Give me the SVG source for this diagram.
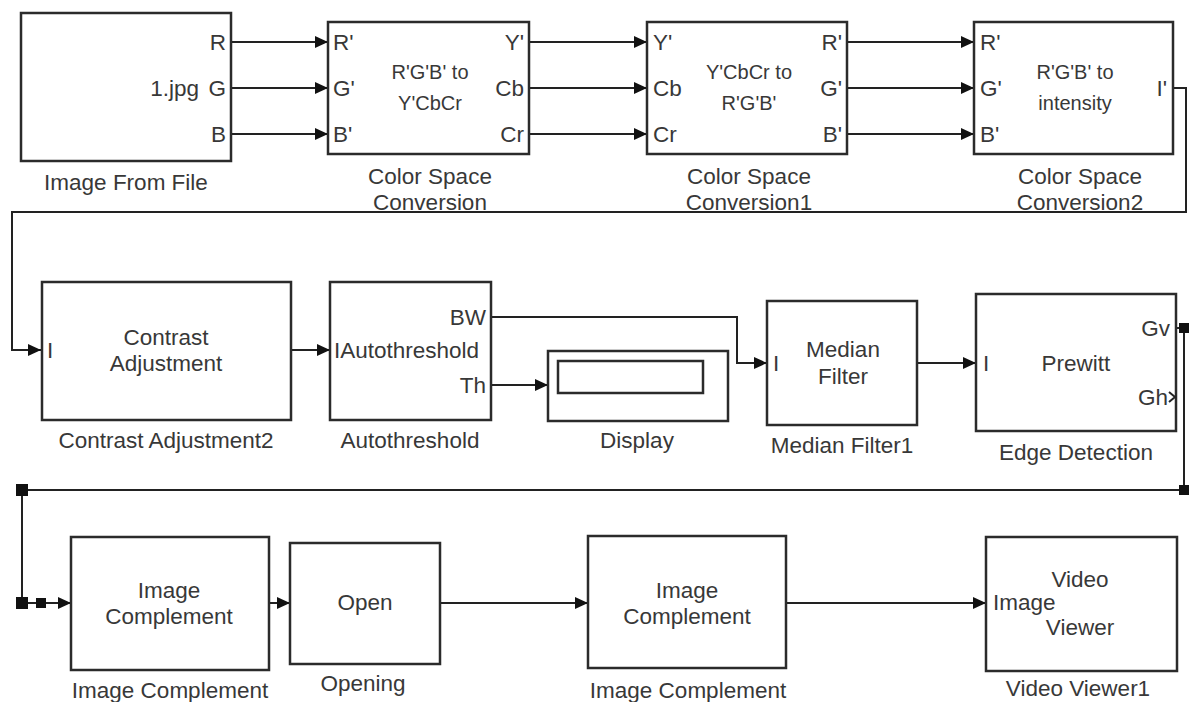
<svg xmlns="http://www.w3.org/2000/svg" width="1190" height="702" viewBox="0 0 1190 702">
<style>
  .blk { fill: #fff; stroke: #2b2b2b; stroke-width: 2.5; }
  .ln { fill: none; stroke: #222; stroke-width: 2; }
  .arr { fill: none; stroke: #222; stroke-width: 2; marker-end: url(#ah); }
  .t { font-family: "Liberation Sans", Arial, sans-serif; font-size: 22.5px; fill: #383838; }
  .s { font-family: "Liberation Sans", Arial, sans-serif; font-size: 20px; fill: #383838; }
  .m { text-anchor: middle; }
  .e { text-anchor: end; }
  .jn { fill: #111; }
</style>
<defs>
  <marker id="ah" markerUnits="userSpaceOnUse" markerWidth="14" markerHeight="12" refX="13" refY="6" orient="auto">
    <path d="M0,0 L13,6 L0,12 z" fill="#111"/>
  </marker>
</defs>
<rect width="1190" height="702" fill="#fff"/>

<g id="connectors">
  <line class="arr" x1="231" y1="42" x2="328" y2="42"/>
  <line class="arr" x1="231" y1="88" x2="328" y2="88"/>
  <line class="arr" x1="231" y1="134" x2="328" y2="134"/>
  <line class="arr" x1="529" y1="42" x2="647" y2="42"/>
  <line class="arr" x1="529" y1="88" x2="647" y2="88"/>
  <line class="arr" x1="529" y1="134" x2="647" y2="134"/>
  <line class="arr" x1="847" y1="42" x2="974" y2="42"/>
  <line class="arr" x1="847" y1="88" x2="974" y2="88"/>
  <line class="arr" x1="847" y1="134" x2="974" y2="134"/>
  <polyline class="arr" points="1173,88 1186,88 1186,212 12,212 12,350 41,350"/>
  <line class="arr" x1="291" y1="350" x2="330" y2="350"/>
  <line class="arr" x1="491" y1="385" x2="548" y2="385"/>
  <polyline class="arr" points="491,317 737,317 737,363 767,363"/>
  <line class="arr" x1="917" y1="363" x2="976" y2="363"/>
  <polyline class="ln" points="1176,328 1184,328 1184,490 22,490 22,603"/>
  <line class="arr" x1="22" y1="603" x2="71" y2="603"/>
  <rect class="jn" x="1179" y="323" width="10" height="10"/>
  <rect class="jn" x="1179" y="485" width="10" height="10"/>
  <rect class="jn" x="16" y="484" width="12" height="12"/>
  <rect class="jn" x="16" y="597" width="12" height="12"/>
  <rect class="jn" x="36" y="598" width="10" height="10"/>
  <line class="arr" x1="259" y1="603" x2="290" y2="603"/>
  <line class="arr" x1="440" y1="603" x2="588" y2="603"/>
  <line class="arr" x1="786" y1="603" x2="986" y2="603"/>
</g>

<g id="image-from-file">
  <rect class="blk" x="21" y="13" width="210" height="148"/>
  <text class="t e" x="226" y="50">R</text>
  <text class="t e" x="226" y="96">G</text>
  <text class="t e" x="226" y="142">B</text>
  <text class="t e" x="199" y="96">1.jpg</text>
  <text class="t m" x="126" y="190">Image From File</text>
</g>

<g id="color-space-conversion">
  <rect class="blk" x="328" y="22" width="201" height="132"/>
  <text class="t" x="333" y="50">R'</text>
  <text class="t" x="333" y="96">G'</text>
  <text class="t" x="333" y="142">B'</text>
  <text class="t e" x="524" y="50">Y'</text>
  <text class="t e" x="524" y="96">Cb</text>
  <text class="t e" x="524" y="142">Cr</text>
  <text class="s m" x="430" y="79">R'G'B' to</text>
  <text class="s m" x="430" y="110">Y'CbCr</text>
  <text class="t m" x="430" y="184">Color Space</text>
  <text class="t m" x="430" y="210">Conversion</text>
</g>

<g id="color-space-conversion1">
  <rect class="blk" x="647" y="22" width="200" height="132"/>
  <text class="t" x="653" y="50">Y'</text>
  <text class="t" x="653" y="96">Cb</text>
  <text class="t" x="653" y="142">Cr</text>
  <text class="t e" x="842" y="50">R'</text>
  <text class="t e" x="842" y="96">G'</text>
  <text class="t e" x="842" y="142">B'</text>
  <text class="s m" x="749" y="79">Y'CbCr to</text>
  <text class="s m" x="749" y="110">R'G'B'</text>
  <text class="t m" x="749" y="184">Color Space</text>
  <text class="t m" x="749" y="210">Conversion1</text>
</g>

<g id="color-space-conversion2">
  <rect class="blk" x="974" y="22" width="199" height="132"/>
  <text class="t" x="980" y="50">R'</text>
  <text class="t" x="980" y="96">G'</text>
  <text class="t" x="980" y="142">B'</text>
  <text class="t e" x="1167" y="96">I'</text>
  <text class="s m" x="1075" y="79">R'G'B' to</text>
  <text class="s m" x="1075" y="110">intensity</text>
  <text class="t m" x="1080" y="184">Color Space</text>
  <text class="t m" x="1080" y="210">Conversion2</text>
</g>

<g id="contrast-adjustment2">
  <rect class="blk" x="42" y="282" width="249" height="138"/>
  <text class="t" x="47" y="358">I</text>
  <text class="t m" x="166" y="345">Contrast</text>
  <text class="t m" x="166" y="371">Adjustment</text>
  <text class="t m" x="166" y="448">Contrast Adjustment2</text>
</g>

<g id="autothreshold">
  <rect class="blk" x="330" y="282" width="161" height="138"/>
  <text class="t e" x="486" y="325">BW</text>
  <text class="t" x="334" y="358">IAutothreshold</text>
  <text class="t e" x="486" y="393">Th</text>
  <text class="t m" x="410" y="448">Autothreshold</text>
</g>

<g id="display">
  <rect class="blk" x="548" y="351" width="180" height="70"/>
  <rect class="blk" x="558" y="361" width="145" height="32"/>
  <text class="t m" x="637" y="448">Display</text>
</g>

<g id="median-filter1">
  <rect class="blk" x="767" y="301" width="150" height="124"/>
  <text class="t" x="773" y="371">I</text>
  <text class="t m" x="843" y="357">Median</text>
  <text class="t m" x="843" y="384">Filter</text>
  <text class="t m" x="842" y="453">Median Filter1</text>
</g>

<g id="edge-detection">
  <rect class="blk" x="976" y="294" width="200" height="137"/>
  <text class="t" x="983" y="371">I</text>
  <text class="t m" x="1076" y="371">Prewitt</text>
  <text class="t e" x="1170" y="336">Gv</text>
  <text class="t e" x="1168" y="405">Gh</text>
  <path class="ln" d="M1169,392 L1175,397 L1169,402" stroke-width="1.5"/>
  <text class="t m" x="1076" y="460">Edge Detection</text>
</g>

<g id="image-complement">
  <rect class="blk" x="71" y="537" width="198" height="133"/>
  <text class="t m" x="169" y="598">Image</text>
  <text class="t m" x="169" y="624">Complement</text>
  <text class="t m" x="170" y="698">Image Complement</text>
</g>

<g id="opening">
  <rect class="blk" x="290" y="543" width="150" height="121"/>
  <text class="t m" x="365" y="610">Open</text>
  <text class="t m" x="363" y="691">Opening</text>
</g>

<g id="image-complement-2">
  <rect class="blk" x="588" y="536" width="198" height="132"/>
  <text class="t m" x="687" y="598">Image</text>
  <text class="t m" x="687" y="624">Complement</text>
  <text class="t m" x="688" y="698">Image Complement</text>
</g>

<g id="video-viewer1">
  <rect class="blk" x="986" y="537" width="191" height="134"/>
  <text class="t m" x="1080" y="587">Video</text>
  <text class="t" x="993" y="610">Image</text>
  <text class="t m" x="1080" y="635">Viewer</text>
  <text class="t m" x="1078" y="696">Video Viewer1</text>
</g>
</svg>
